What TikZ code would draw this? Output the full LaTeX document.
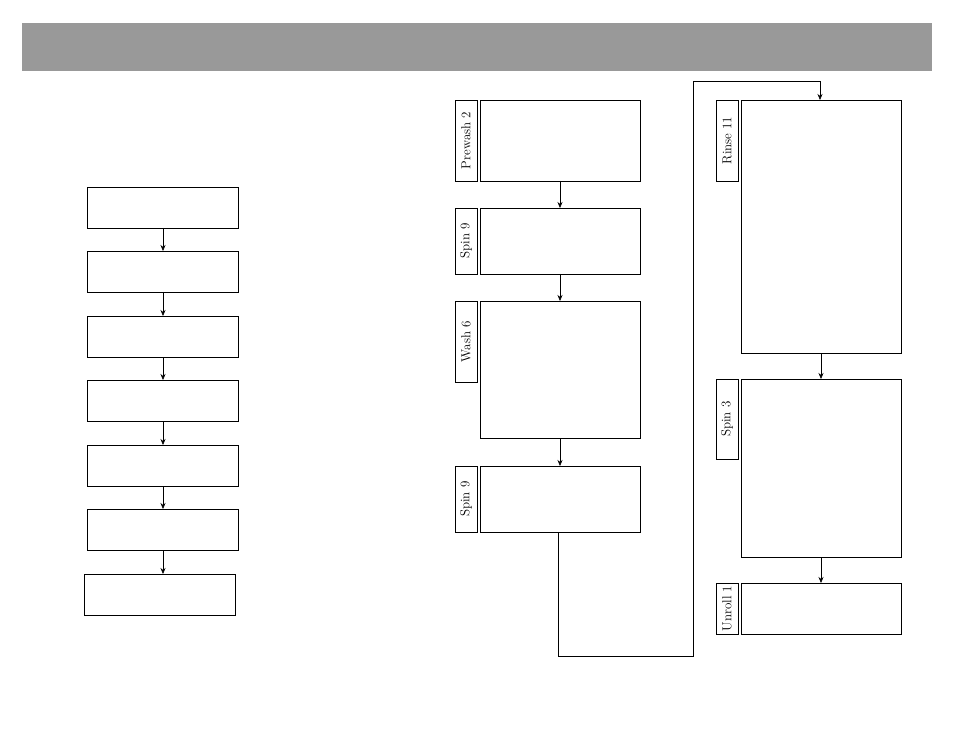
\documentclass[tikz,border=0pt]{standalone}
\usetikzlibrary{arrows.meta}
\begin{document}
\begin{tikzpicture}[x=1pt,y=-1pt,
 box/.style={draw,line width=0.6pt},
 lbl/.style={draw,line width=0.6pt,inner sep=0pt},
 lt/.style={rotate=90,font=\fontsize{13}{13}\selectfont},
 arr/.style={-{Stealth[length=6pt,width=5pt]},line width=0.6pt}]
\useasboundingbox (0,0) rectangle (954,738);
\fill[gray!80!white,fill=black!40] (22,23) rectangle (932,71);
% left column
\foreach \i/\y in {1/187,2/251,3/316,4/380,5/445,6/509}{
  \draw[box] (87,\y) rectangle (238,\y+41);
  \coordinate (L\i t) at (163,\y);
  \coordinate (L\i b) at (163,\y+41);
}
\draw[box] (84,574) rectangle (235,615);
\coordinate (L7t) at (163,574);
\foreach \a/\b in {1/2,2/3,3/4,4/5,5/6,6/7}{\draw[arr] (L\a b) -- (L\b t);}
% middle column
\draw[box] (480,100) rectangle (640,181); \draw[lbl] (455,100) rectangle (477,181);
\node[lt] at (466,140.5) {Prewash 2};
\draw[box] (480,208) rectangle (640,274); \draw[lbl] (455,208) rectangle (477,274);
\node[lt] at (466,241) {Spin 9};
\draw[box] (480,301) rectangle (640,438); \draw[lbl] (455,301) rectangle (477,382);
\node[lt] at (466,341.5) {Wash 6};
\draw[box] (480,466) rectangle (640,532); \draw[lbl] (455,466) rectangle (477,532);
\node[lt] at (466,499) {Spin 9};
\coordinate (a1) at (560,181); \coordinate (a2) at (560,208);
\coordinate (a3) at (560,274); \coordinate (a4) at (560,301);
\coordinate (a5) at (560,438); \coordinate (a6) at (560,466);
\draw[arr] (a1)--(a2); \draw[arr] (a3)--(a4); \draw[arr] (a5)--(a6);
% right column
\draw[box] (741,100) rectangle (901,353); \draw[lbl] (716,100) rectangle (738,181);
\node[lt] at (727,140.5) {Rinse 11};
\draw[box] (741,379) rectangle (901,557); \draw[lbl] (716,379) rectangle (738,459);
\node[lt] at (727,419) {Spin 3};
\draw[box] (741,583) rectangle (901,634); \draw[lbl] (716,583) rectangle (738,634);
\node[lt] at (727,608.5) {Unroll 1};
\coordinate (b1) at (821,353); \coordinate (b2) at (821,379);
\coordinate (b3) at (821,557); \coordinate (b4) at (821,583);
\draw[arr] (b1)--(b2); \draw[arr] (b3)--(b4);
\coordinate (s) at (558,532); \coordinate (r) at (820,100);
\draw[arr] (s) -- (558,656) -- (693,656) -- (693,81) -- (820,81) -- (r);
\end{tikzpicture}
\end{document}
